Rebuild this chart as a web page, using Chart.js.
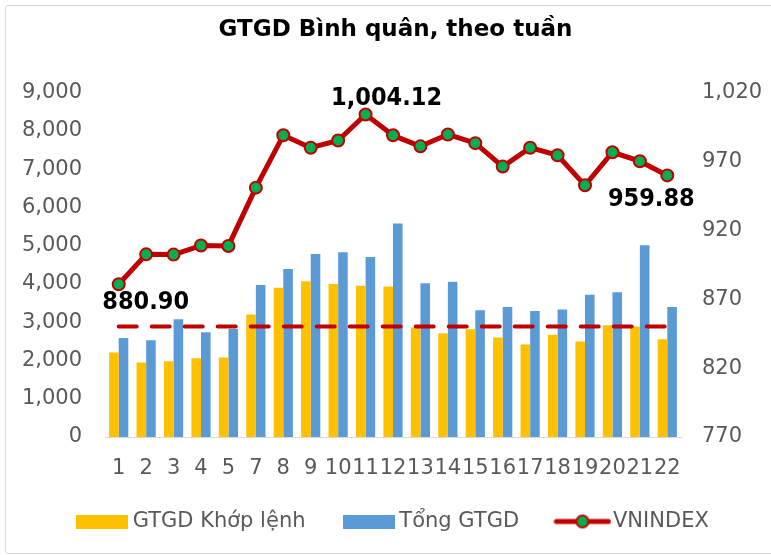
<!DOCTYPE html>
<html>
<head>
<meta charset="utf-8">
<script src="https://cdn.jsdelivr.net/npm/chart.js@4.4.1/dist/chart.umd.min.js"></script>
<style>
  html, body { margin: 0; padding: 0; background: #fff; }
  #wrap { position: relative; width: 771px; height: 555px; overflow: hidden; }
  #frame { position: absolute; left: 5px; top: 5px; width: 800px; height: 547px;
           border: 1px solid #d9d9d9; border-radius: 3px; pointer-events: none; }
</style>
</head>
<body>
<div id="wrap">
  <canvas id="chart" width="771" height="555"></canvas>
  <div id="frame"></div>
</div>
<script>
// week numbers (week 6 is missing in the source)
const weeks = ['1','2','3','4','5','7','8','9','10','11','12','13','14','15','16','17','18','19','20','21','22'];

// GTGD khop lenh (left axis)
const khopLenh = [2210, 1950, 1980, 2055, 2075, 3200, 3900, 4070, 4000, 3955, 3935,
                  2860, 2710, 2815, 2600, 2415, 2675, 2495, 2920, 2890, 2555];
// Tong GTGD (left axis)
const tongGTGD = [2590, 2530, 3080, 2740, 2820, 3970, 4390, 4785, 4830, 4705, 5580,
                  4015, 4060, 3315, 3400, 3290, 3335, 3720, 3780, 5010, 3400];
// VNINDEX (right axis)
const vnindex = [880.90, 902.6, 902.4, 909.0, 908.7, 951.0, 989.0, 980.0, 985.2, 1004.12, 989.0,
                 981.0, 989.6, 983.3, 966.3, 980.0, 974.5, 952.7, 976.7, 970.2, 959.88];
// average level shown as dashed line (left axis)
const avgLevel = weeks.map(() => 2890);

// labelled points: index -> text
const pointLabels = { 0: '880.90', 9: '1,004.12', 20: '959.88' };

const FONT = "'DejaVu Sans', sans-serif";
const FONT_C = "'DejaVu Sans Condensed', 'DejaVu Sans', sans-serif";
const GREY = '#595959';
const ORANGE = '#ffc000';
const BLUE = '#5b9bd5';
const RED = '#c00000';
const GREEN = '#00b050';

function boxIcon(color) {
  const c = document.createElement('canvas');
  c.width = 52; c.height = 14;
  const g = c.getContext('2d');
  g.fillStyle = color;
  g.fillRect(0, 0, 52, 14);
  return c;
}

function lineIcon() {
  const c = document.createElement('canvas');
  c.width = 58; c.height = 18;
  const g = c.getContext('2d');
  g.strokeStyle = RED; g.lineWidth = 5; g.lineCap = 'round';
  g.beginPath(); g.moveTo(3, 9); g.lineTo(55, 9); g.stroke();
  g.beginPath(); g.arc(29, 9, 6, 0, Math.PI * 2);
  g.fillStyle = GREEN; g.fill();
  g.lineWidth = 2; g.stroke();
  return c;
}

const legendIcons = [boxIcon(ORANGE), boxIcon(BLUE), null, lineIcon()];

const pointLabelPlugin = {
  id: 'pointLabels',
  afterDatasetsDraw(chart) {
    const meta = chart.getDatasetMeta(3);
    const ctx = chart.ctx;
    ctx.save();
    ctx.font = 'bold 25px ' + FONT_C;
    ctx.fillStyle = '#000';
    ctx.textBaseline = 'middle';
    ctx.textAlign = 'center';
    const offsets = { 0: [27, 18], 9: [21, -16], 20: [-16, 24] };
    Object.keys(pointLabels).forEach(k => {
      const pt = meta.data[k];
      if (!pt) return;
      const [dx, dy] = offsets[k];
      ctx.fillText(pointLabels[k], pt.x + dx, pt.y + dy);
    });
    ctx.restore();
  }
};

new Chart(document.getElementById('chart'), {
  type: 'bar',
  data: {
    labels: weeks,
    datasets: [
      { label: 'GTGD Khớp lệnh', data: khopLenh, backgroundColor: ORANGE, yAxisID: 'y', order: 3,
        categoryPercentage: 0.7, barPercentage: 1.0 },
      { label: 'Tổng GTGD', data: tongGTGD, backgroundColor: BLUE, yAxisID: 'y', order: 3,
        categoryPercentage: 0.7, barPercentage: 1.0 },
      { type: 'line', label: '', data: avgLevel, yAxisID: 'y', order: 2,
        borderColor: RED, borderWidth: 4, borderDash: [18, 15], borderCapStyle: 'round',
        pointRadius: 0, fill: false },
      { type: 'line', label: 'VNINDEX', data: vnindex, yAxisID: 'y1', order: 1,
        borderColor: RED, borderWidth: 5, borderJoinStyle: 'round', tension: 0,
        pointRadius: 6, pointBackgroundColor: GREEN, pointBorderColor: RED, pointBorderWidth: 2,
        fill: false }
    ]
  },
  options: {
    responsive: false,
    animation: false,
    layout: { padding: { left: 20, right: 0, top: 0, bottom: 13 } },
    plugins: {
      title: {
        display: true,
        text: 'GTGD Bình quân, theo tuần',
        color: '#000',
        font: { family: FONT, size: 23, weight: 'bold' },
        padding: { top: 16, bottom: 49 }
      },
      legend: {
        position: 'bottom',
        labels: {
          usePointStyle: true,
          pointStyleWidth: 40,
          padding: 30,
          color: GREY,
          font: { family: FONT, size: 21 },
          // trailing spaces widen the gap between legend entries
          generateLabels: chart => chart.data.datasets
            .map((ds, i) => ({ text: ds.label ? (i < 3 ? ds.label + '  ' : ds.label) : '',
                               datasetIndex: i, pointStyle: legendIcons[i],
                               fontColor: GREY, lineWidth: 0, hidden: false }))
            .filter(item => item.text)
        }
      },
      tooltip: { enabled: false }
    },
    scales: {
      x: {
        grid: { display: false, drawTicks: false },
        border: { color: '#d9d9d9', width: 1 },
        ticks: { color: GREY, font: { family: FONT, size: 21 }, padding: 19, maxRotation: 0, autoSkip: false },
        afterFit: s => { s.height = 44; }
      },
      y: {
        position: 'left',
        min: 0, max: 9000,
        grid: { display: false, drawTicks: false },
        border: { display: false },
        ticks: { stepSize: 1000, color: GREY, font: { family: FONT, size: 21 }, padding: 23,
                 callback: v => v.toLocaleString('en-US') },
        afterFit: s => { s.width = 85; }
      },
      y1: {
        position: 'right',
        min: 770, max: 1020,
        grid: { display: false, drawTicks: false },
        border: { display: false },
        ticks: { stepSize: 50, color: GREY, font: { family: FONT, size: 21 }, padding: 21,
                 callback: v => v.toLocaleString('en-US') },
        afterFit: s => { s.width = 90; }
      }
    }
  },
  plugins: [pointLabelPlugin]
});
</script>
</body>
</html>
